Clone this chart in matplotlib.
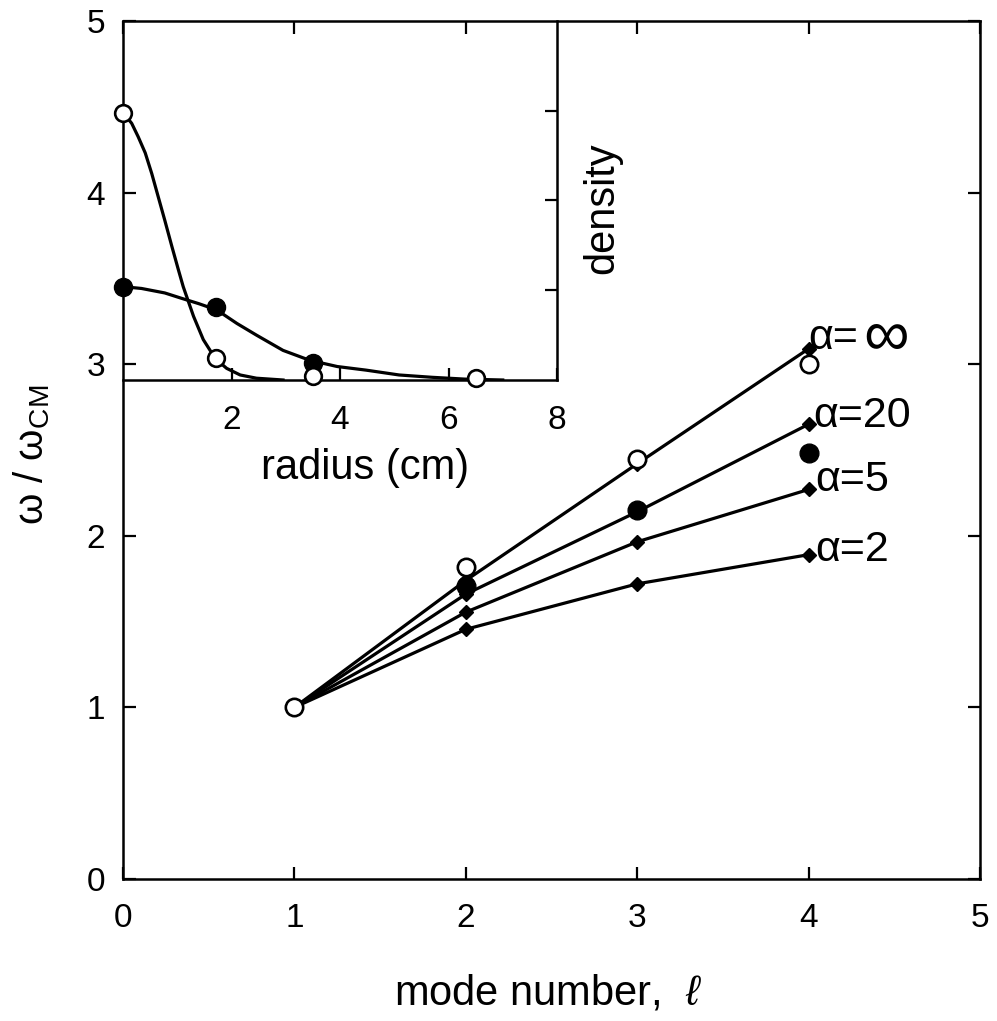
import matplotlib
matplotlib.use("Agg")
import matplotlib.pyplot as plt

plt.rcParams['font.family'] = ['Liberation Sans', 'DejaVu Sans']
plt.rcParams['mathtext.fontset'] = 'custom'
plt.rcParams['mathtext.rm'] = 'Liberation Sans'
plt.rcParams['mathtext.it'] = 'Liberation Sans:italic'

# ---- main panel data ----
modes = [1, 2, 3, 4]
alpha_labels = ['α=∞', 'α=20', 'α=5', 'α=2']
theory_inf = [1.0, 1.74, 2.42, 3.09]
theory_20 = [1.0, 1.66, 2.14, 2.65]
theory_5 = [1.0, 1.555, 1.965, 2.27]
theory_2 = [1.0, 1.455, 1.72, 1.89]
open_x = [1, 2, 3, 4]
open_y = [1.0, 1.82, 2.45, 3.0]
filled_x = [2, 3, 4]
filled_y = [1.71, 2.15, 2.48]
main_ticks = [0, 1, 2, 3, 4, 5]

# ---- inset data ----
open_curve_r = [0, 0.04, 0.16, 0.28, 0.41, 0.53, 0.65, 0.77, 0.90, 1.02, 1.11, 1.30,
                1.48, 1.70, 1.91, 2.16, 2.46, 2.95]
open_curve_n = [2.98, 2.95, 2.86, 2.71, 2.53, 2.30, 2.04, 1.78, 1.49, 1.23, 1.04, 0.71,
                0.45, 0.24, 0.13, 0.056, 0.02, 0.0]
filled_curve_r = [0, 0.34, 0.77, 1.08, 1.40, 1.73, 2.10, 2.46, 2.95, 3.44, 3.95, 4.48,
                  5.09, 5.7, 6.3, 7.0]
filled_curve_n = [1.04, 1.02, 0.97, 0.91, 0.85, 0.78, 0.63, 0.50, 0.33, 0.22, 0.15, 0.11,
                  0.056, 0.03, 0.01, 0.0]
inset_open_r = [0, 1.71, 3.5, 6.5]
inset_open_n = [2.98, 0.25, 0.04, 0.02]
inset_filled_r = [0, 1.72, 3.5]
inset_filled_n = [1.04, 0.81, 0.19]
inset_xticks = [2, 4, 6, 8]
inset_yticks = [1, 2, 3]

W, H = 997, 1021
fig = plt.figure(figsize=(W / 100, H / 100), dpi=100)

def rect(x0, x1, y0, y1):
    return [x0 / W, 1 - y1 / H, (x1 - x0) / W, (y1 - y0) / H]

ax = fig.add_axes(rect(123, 980, 21, 879))
lw = 2.3
for ys in [theory_inf, theory_20, theory_5, theory_2]:
    ax.plot(modes, ys, '-', color='black', lw=lw, zorder=2)
    ax.plot(modes[1:], ys[1:], 'D', color='black', ms=7.5, zorder=3)
ax.plot(filled_x, filled_y, 'o', color='black', ms=13.5, zorder=4)
ax.plot(open_x, open_y, 'o', mfc='white', mec='black', mew=1.9, ms=12.5, zorder=5)

label_pos = [(4.0, 3.15), (4.03, 2.70), (4.04, 2.325), (4.04, 1.92)]
for lab, (lx, ly) in zip(alpha_labels, label_pos):
    if lab.endswith('∞'):
        t = ax.text(lx, ly, lab[:-1], fontsize=31, ha='left', va='center')
        ax.annotate(lab[-1], xy=(lx, ly), xycoords='data',
                    xytext=(39, 0), textcoords='offset points',
                    fontsize=46, ha='left', va='center')
    else:
        ax.text(lx, ly, lab, fontsize=31, ha='left', va='center')

ax.set_xlim(0, 5)
ax.set_ylim(0, 5)
ax.set_xticks(main_ticks)
ax.set_yticks(main_ticks)
ax.tick_params(direction='in', length=9, width=1.6, top=True, right=True,
               labelsize=24, pad=13)
ax.tick_params(axis='x', pad=17)
for s in ax.spines.values():
    s.set_linewidth(1.8)

fig.text(548 / W, 1 - 993 / H, 'mode number,  $\\ell$', fontsize=30,
         ha='center', va='center')
fig.text(32 / W, 1 - 455 / H, 'ω / ω$_{\\rm CM}$', fontsize=29,
         ha='center', va='center', rotation=90)

# ---- inset ----
ins = fig.add_axes(rect(123, 557, 21, 380))
ins.patch.set_alpha(0)
ins.plot(open_curve_r, open_curve_n, '-', color='black', lw=lw, zorder=2)
ins.plot(filled_curve_r, filled_curve_n, '-', color='black', lw=lw, zorder=2)
ins.plot(inset_filled_r, inset_filled_n, 'o', color='black', ms=13, zorder=3, clip_on=False)
ins.plot(inset_open_r, inset_open_n, 'o', mfc='white', mec='black', mew=1.9, ms=12,
         zorder=4, clip_on=False)
ins.set_xlim(0, 8)
ins.set_ylim(0, 4)
ins.set_xticks(inset_xticks)
ins.set_yticks(inset_yticks)
ins.tick_params(axis='x', direction='in', length=9, width=1.6, labelsize=24, pad=18,
                top=False)
ins.tick_params(axis='y', direction='in', length=9, width=1.6, left=False, right=True,
                labelleft=False, labelright=False)
ins.spines['left'].set_visible(False)
ins.spines['top'].set_visible(False)
for k in ['right', 'bottom']:
    ins.spines[k].set_linewidth(1.8)
ins.text(0.557, -0.245, 'radius (cm)', transform=ins.transAxes, fontsize=30,
         ha='center', va='center')
ins.text(1.104, 0.479, 'density', transform=ins.transAxes, fontsize=30,
         ha='center', va='center', rotation=90)

fig.savefig('out.png', dpi=100)
